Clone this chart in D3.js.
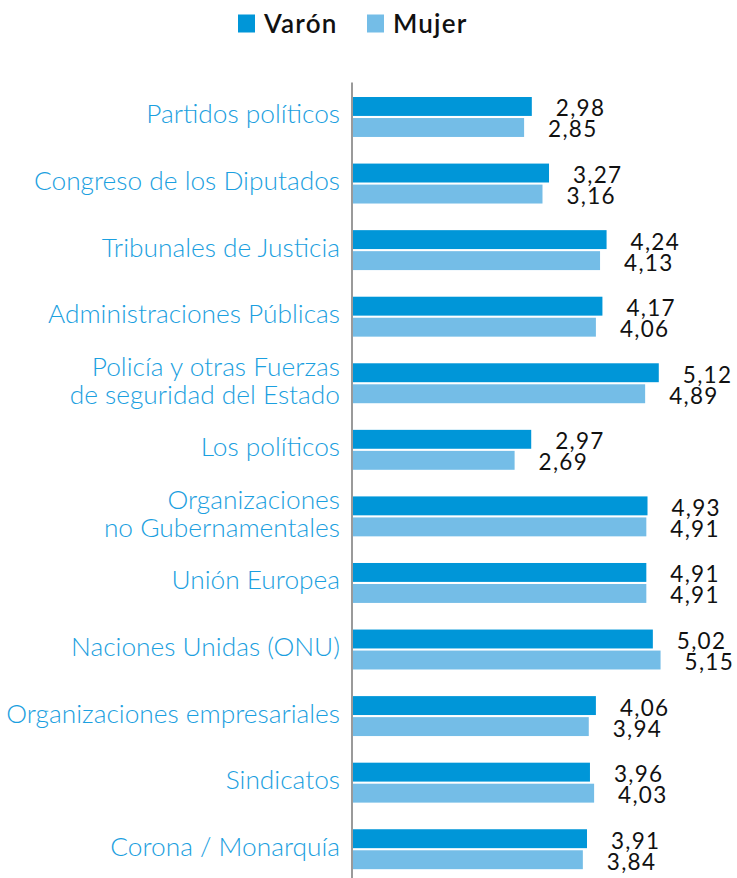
<!DOCTYPE html>
<html>
<head>
<meta charset="utf-8">
<script src="https://cdn.jsdelivr.net/npm/d3@7"></script>
<style>
  html, body { margin: 0; padding: 0; background: #fff; }
  svg { display: block; }
</style>
</head>
<body>
<svg id="chart" width="737" height="878"></svg>
<script>
// ---- data ----
const categories = [
  "Partidos políticos",
  "Congreso de los Diputados",
  "Tribunales de Justicia",
  "Administraciones Públicas",
  "Policía y otras Fuerzas|de seguridad del Estado",
  "Los políticos",
  "Organizaciones|no Gubernamentales",
  "Unión Europea",
  "Naciones Unidas (ONU)",
  "Organizaciones empresariales",
  "Sindicatos",
  "Corona / Monarquía"
];
const seriesNames = ["Varón", "Mujer"];
const varon = [2.98, 3.27, 4.24, 4.17, 5.12, 2.97, 4.93, 4.91, 5.02, 4.06, 3.96, 3.91];
const mujer = [2.85, 3.16, 4.13, 4.06, 4.89, 2.69, 4.91, 4.91, 5.15, 3.94, 4.03, 3.84];
const seriesValues = [varon, mujer];

// ---- styles ----
const colors = ["#0096D8", "#74BDE7"];
const labelColor = "#1BA0E0";
const labelFont = "Lato, 'Open Sans', sans-serif";

const svg = d3.select("#chart");

const x = d3.scaleLinear().domain([0, 6]).range([355, 711]);
const y = d3.scaleBand().domain(categories)
  .range([83.7, 882.5]).paddingInner(0.4).paddingOuter(0.2);
const ySub = d3.scaleBand().domain(seriesNames)
  .range([0, y.bandwidth()]).paddingInner(0.1);

const fmt = v => d3.format(".2f")(v).replace(".", ",");

const rows = categories.map((c, i) => ({
  cat: c,
  vals: seriesNames.map((s, j) => ({ s, j, v: seriesValues[j][i] }))
}));

const g = svg.selectAll("g.cat").data(rows).join("g")
  .attr("class", "cat")
  .attr("transform", d => `translate(0,${y(d.cat)})`);

g.selectAll("rect").data(d => d.vals).join("rect")
  .attr("x", x(0) - 2)
  .attr("y", d => ySub(d.s))
  .attr("width", d => x(d.v) - x(0) + 2)
  .attr("height", ySub.bandwidth())
  .attr("fill", d => colors[d.j]);

g.selectAll("text.val").data(d => d.vals).join("text")
  .attr("class", "val")
  .attr("x", d => x(d.v) + 24)
  .attr("y", d => ySub(d.s) + ySub.bandwidth() + 0.5)
  .attr("font-family", labelFont)
  .attr("font-size", 22.5)
  .attr("letter-spacing", 1.3)
  .attr("fill", "#111")
  .text(d => fmt(d.v));

// category labels
g.each(function(d) {
  const lines = d.cat.split("|");
  const cy = y.bandwidth() / 2;
  const t = d3.select(this).append("text")
    .attr("text-anchor", "end")
    .attr("font-family", labelFont)
    .attr("font-weight", 300)
    .attr("font-size", 26.3)
    .attr("fill", labelColor);
  lines.forEach((ln, k) => {
    t.append("tspan")
      .attr("x", 340)
      .attr("y", cy + 6.5 + (k - (lines.length - 1) / 2) * 28.3)
      .text(ln);
  });
});

// axis line
const yAxis = d3.axisLeft(y).tickSize(0).tickFormat("");
svg.append("g")
  .attr("transform", `translate(${x(0) - 3},0)`)
  .call(yAxis)
  .call(a => a.select(".domain")
    .attr("d", `M0,82.5V878`)
    .attr("stroke", "#9a9a9a")
    .attr("stroke-width", 2));

// legend
const legendX = [238, 367];
const leg = svg.selectAll("g.leg").data(seriesNames).join("g")
  .attr("class", "leg")
  .attr("transform", (d, i) => `translate(${legendX[i]},14.5)`);
leg.append("rect").attr("width", 17).attr("height", 18)
  .attr("fill", (d, i) => colors[i]);
leg.append("text")
  .attr("x", 26).attr("y", 18)
  .attr("font-family", labelFont)
  .attr("font-weight", 600)
  .attr("font-size", 26)
  .attr("letter-spacing", 1.2)
  .attr("fill", "#111")
  .text(d => d);
</script>
</body>
</html>
